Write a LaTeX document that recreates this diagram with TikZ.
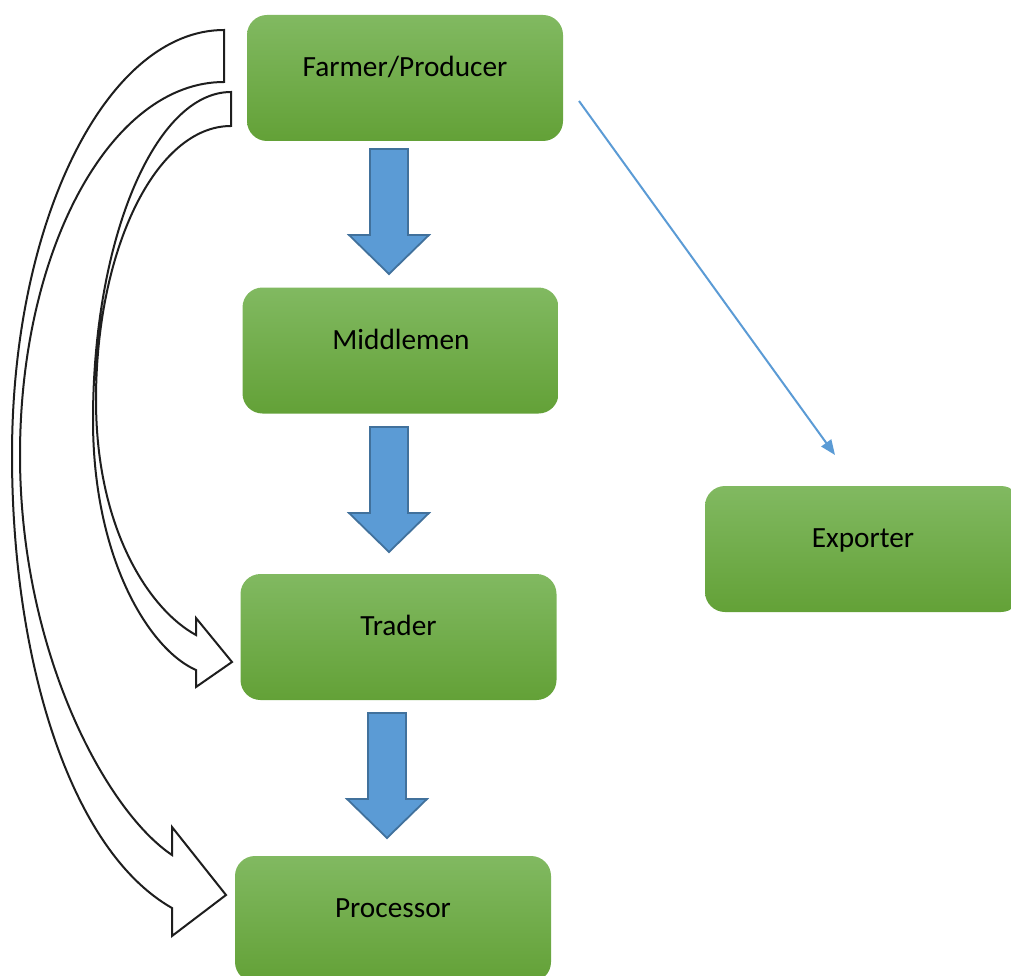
\documentclass[tikz,border=0pt]{standalone}
\usepackage{fontspec}
\setmainfont{Carlito}
\usetikzlibrary{arrows.meta}
\definecolor{gtop}{RGB}{129,185,97}
\definecolor{gmid}{RGB}{112,174,70}
\definecolor{gbot}{RGB}{99,161,55}
\definecolor{bfill}{RGB}{91,155,213}
\definecolor{bdraw}{RGB}{65,113,156}
\definecolor{outl}{RGB}{30,30,30}
\tikzset{
  box/.style={rectangle, rounded corners=20pt, minimum width=316pt, minimum height=126pt,
    inner sep=0pt, top color=gtop, middle color=gmid, bottom color=gbot, draw=none},
  lbl/.style={anchor=base, inner sep=0pt, font=\fontsize{29.3}{35}\selectfont, text=black},
  barrow/.style={fill=bfill, draw=bdraw, line width=1.8pt, line join=miter},
  carrow/.style={fill=white, draw=outl, line width=2pt, line join=miter},
  thinarrow/.style={draw=bfill, line width=2pt, -{Triangle[length=15pt,width=12pt]}},
  downarr/.pic={\draw[barrow] (-19,0) -- (19,0) -- (19,86) -- (40,86) -- (0,125) -- (-40,86) -- (-19,86) -- cycle;}
}
\begin{document}
\begin{tikzpicture}[x=1pt,y=-1pt]
\useasboundingbox (0,0) rectangle (1011,976);
% boxes
\node[box] (farmer) at (405,78) {};
\node[box] (middle) at (400.5,350.5) {};
\node[box] (trader) at (398.5,637) {};
\node[box] (proc) at (393,919) {};
\node[box] (export) at (863,549) {};
% labels
\node[lbl] (tfarmer) at (405,77) {Farmer/Producer};
\node[lbl] (tmiddle) at (401,349) {Middlemen};
\node[lbl] (ttrader) at (398.5,635) {Trader};
\node[lbl] (tproc) at (393,917) {Processor};
\node[lbl] (texport) at (863,547) {Exporter};
% block arrows
\pic at (389,149) {downarr};
\pic at (389,427) {downarr};
\pic at (387,713) {downarr};
% curved arrow to processor
\draw[carrow] (224,30) .. controls (107,30) and (12,220) .. (12,455)
  .. controls (12,660) and (70,850) .. (172,908) -- (172,936) -- (226,895) -- (172,827) -- (172,855)
  .. controls (105,810) and (20,650) .. (20,455)
  .. controls (20,249) and (111,82) .. (224,82) -- cycle;
% curved arrow to trader
\draw[carrow] (231,92) .. controls (155,92) and (93,239) .. (93,420)
  .. controls (93,560) and (150,650) .. (196,670) -- (196,687) -- (232,662) -- (196,618) -- (196,635)
  .. controls (150,610) and (96,530) .. (96,400)
  .. controls (96,249) and (156,126) .. (231,126) -- cycle;
% thin arrow to exporter
\coordinate (es) at (579,101);
\coordinate (ee) at (835,455);
\draw[thinarrow] (es) -- (ee);
\end{tikzpicture}
\end{document}
